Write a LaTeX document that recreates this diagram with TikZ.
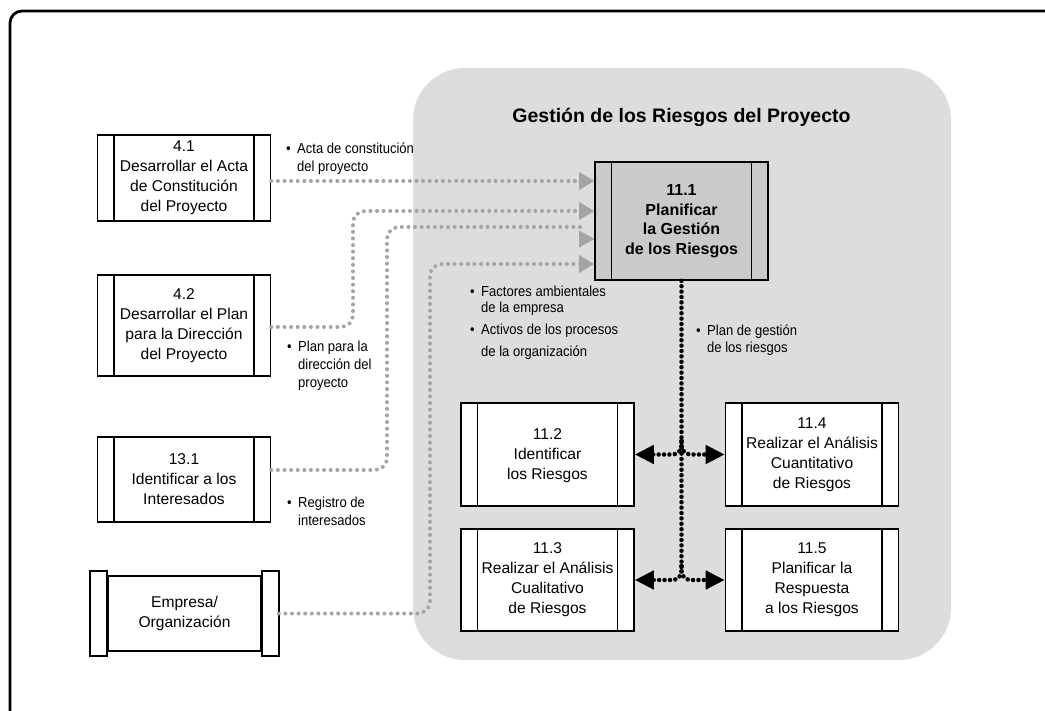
\documentclass[tikz,border=0pt]{standalone}
\usepackage{fontspec}
\setmainfont{Liberation Sans}
\newfontfamily\narrowfont[FakeStretch=0.9]{Liberation Sans}
\usetikzlibrary{arrows.meta}
\definecolor{regiongray}{HTML}{DCDDDF}
\definecolor{boxgray}{HTML}{C9CACC}
\definecolor{dotgray}{HTML}{A4A4A4}
\definecolor{arrgray}{HTML}{A4A4A4}
\newcommand\boxfont{\fontsize{15.6}{20}\selectfont}
\newcommand\boldboxfont{\fontsize{16}{19.5}\selectfont\bfseries}
\newcommand\lblfont[1]{\narrowfont\fontsize{14.5}{#1}\selectfont}
\newcommand\bul{\makebox[11pt][l]{\textbullet}}
\newcommand\ind{\hspace*{11pt}}
\tikzset{
  frame/.style={draw=black, line width=2.8pt, rounded corners=12pt},
  proc/.style={draw=black, line width=1.6pt, fill=white, minimum width=173pt,
    inner sep=0pt, align=center, font=\boxfont,
    path picture={\draw[line width=1.6pt]
      ([xshift=16.5pt]path picture bounding box.north west) -- ([xshift=16.5pt]path picture bounding box.south west)
      ([xshift=-16.5pt]path picture bounding box.north east) -- ([xshift=-16.5pt]path picture bounding box.south east);}},
  org/.style={draw=black, line width=1.6pt, fill=white, minimum width=153pt,
    minimum height=75pt, inner sep=0pt, align=center, font=\boxfont},
  flag/.style={draw=black, line width=1.6pt, fill=white},
  graydot/.style={draw=dotgray, line width=4pt, line cap=round, dash pattern=on 0pt off 6.6pt},
  gtip/.style={-{Triangle[length=15pt,width=17pt,color=arrgray]}},
  blackdot/.style={draw=black, line width=4.5pt, line cap=round, dash pattern=on 0pt off 5.4pt},
  btip/.style={-{Triangle[length=19pt,width=18pt,color=black]}},
  lbl/.style={anchor=base west, inner sep=0pt, align=left},
  titlestyle/.style={anchor=base, inner sep=0pt, font=\fontsize{19.5}{22}\selectfont\bfseries}
}
\begin{document}
\begin{tikzpicture}[x=1pt,y=-1pt]
\useasboundingbox (0,0) rectangle (1045,711);
\draw[frame] (10,11) rectangle (1080,760);
\fill[regiongray, rounded corners=52pt] (413,68) rectangle (951,660);
\node[titlestyle] (title) at (681.5,123) {Gestión de los Riesgos del Proyecto};

% process boxes
\node[proc, minimum height=86pt] (p41) at (184,178) {4.1\\Desarrollar el Acta\\de Constitución\\del Proyecto};
\node[proc, minimum height=101pt] (p42) at (184,325.5) {4.2\\Desarrollar el Plan\\para la Dirección\\del Proyecto};
\node[proc, minimum height=85pt] (p131) at (184,479.5) {13.1\\Identificar a los\\Interesados};
\node[org] (emp) at (184.5,613.5) {Empresa/\\Organización};
\draw[flag] ([xshift=-17pt,yshift=4pt]emp.north west) rectangle ([yshift=-4pt]emp.south west);
\draw[flag] ([yshift=4pt]emp.north east) rectangle ([xshift=17pt,yshift=-4pt]emp.south east);
\coordinate (empE) at ([xshift=17pt]emp.east);

\node[proc, fill=boxgray, font=\boldboxfont, minimum height=118pt] (p111) at (681.5,221) {11.1\\Planificar\\la Gestión\\de los Riesgos};
\node[proc, minimum height=103pt, text depth=0pt] (p112) at (547.5,454.5) {11.2\\Identificar\\los Riesgos};
\node[proc, minimum height=103pt] (p114) at (812,454.5) {11.4\\Realizar el Análisis\\Cuantitativo\\de Riesgos};
\node[proc, minimum height=102pt] (p113) at (547.5,580) {11.3\\Realizar el Análisis\\Cualitativo\\de Riesgos};
\node[proc, minimum height=102pt] (p115) at (812,580) {11.5\\Planificar la\\Respuesta\\a los Riesgos};

% gray input connectors
\coordinate (y1) at (0,181);
\coordinate (y2) at (0,211);
\coordinate (y3) at (0,227);
\coordinate (y3b) at (0,239);
\coordinate (y4) at (0,264);
\draw[graydot, gtip] (p41.east |- y1) -- (p111.west |- y1);
\draw[graydot, gtip, rounded corners=12pt] ([yshift=-1.5pt]p42.east) -| (353,211) -- (p111.west |- y2);
\draw[graydot, rounded corners=12pt] ([yshift=9.5pt]p131.east) -| (387,227) -- ([xshift=-12pt]p111.west |- y3);
\fill[arrgray] (p111.west |- y3b) -- ++(-15,-8.5) -- ++(0,17) -- cycle;
\draw[graydot, gtip, rounded corners=12pt] (empE) -| (430,264) -- (p111.west |- y4);

% black output connectors
\draw[blackdot] (p111.south) -- (681.5,568);
\draw[blackdot, btip, rounded corners=9pt] (681.5,441) |- (p112.east);
\draw[blackdot, btip, rounded corners=9pt] (681.5,441) |- (p114.west);
\draw[blackdot, btip, rounded corners=9pt] (681.5,566) |- (p113.east);
\draw[blackdot, btip, rounded corners=9pt] (681.5,566) |- (p115.west);

% labels (anchor at baseline of last line)
\node[lbl, font=\lblfont{18}] (l1) at (286,172) {\bul Acta de constitución\\\ind del proyecto};
\node[lbl, font=\lblfont{18}] (l2) at (287,388) {\bul Plan para la\\\ind dirección del\\\ind proyecto};
\node[lbl, font=\lblfont{18}] (l3) at (287,525) {\bul Registro de\\\ind interesados};
\node[lbl, font=\lblfont{16}] (l4) at (470,313) {\bul Factores ambientales\\\ind de la empresa};
\node[lbl, font=\lblfont{22}] (l5) at (470,357) {\bul Activos de los procesos\\\ind de la organización};
\node[lbl, font=\lblfont{17}] (l6) at (696,353) {\bul Plan de gestión\\\ind de los riesgos};
\end{tikzpicture}
\end{document}
